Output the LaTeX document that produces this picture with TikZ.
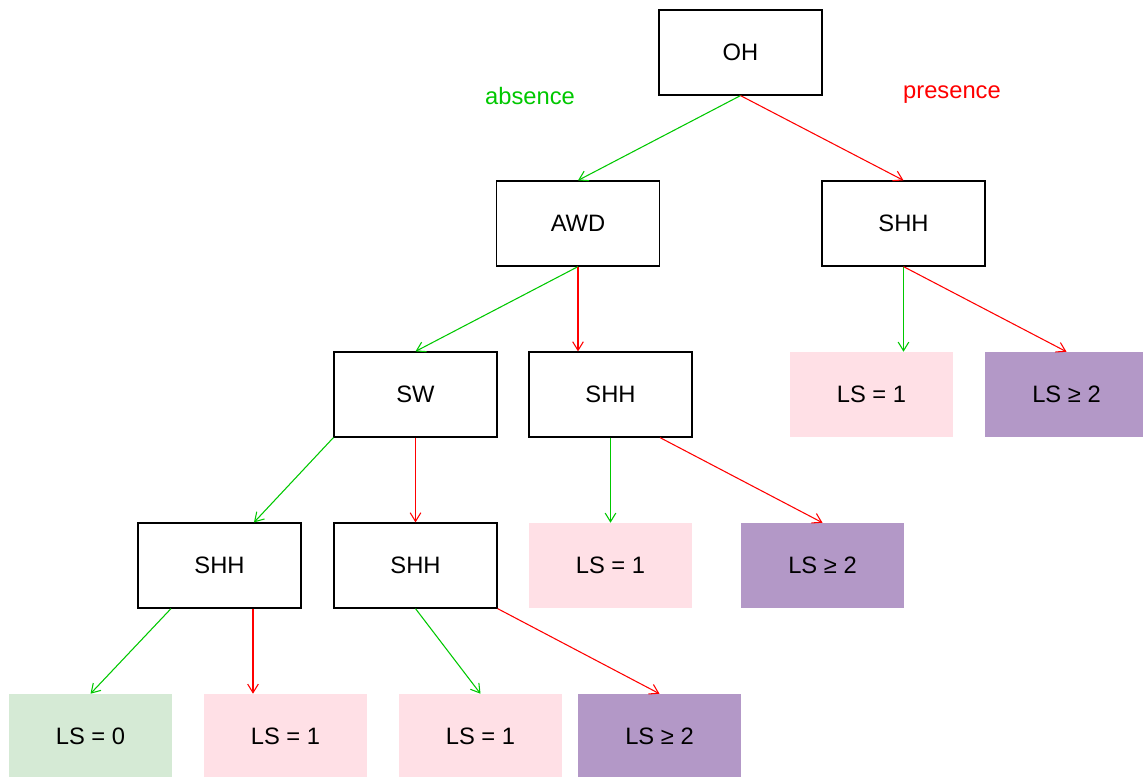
\documentclass[tikz,border=0pt]{standalone}
\usepackage{fontspec}
\setmainfont{Liberation Sans}
\usetikzlibrary{arrows.meta,calc}
\definecolor{agreen}{RGB}{0,200,0}
\definecolor{pred}{RGB}{255,0,0}
\definecolor{pinkfill}{RGB}{255,224,230}
\definecolor{purplefill}{RGB}{179,152,199}
\definecolor{greenfill}{RGB}{213,234,213}
\begin{document}
\begin{tikzpicture}[x=0.75pt,y=-0.75pt,
  lbl/.style={font=\fontsize{17.8}{21}\selectfont},
  box/.style={lbl,draw=black,line width=0.9pt,fill=white,minimum width=122.25pt,minimum height=63.75pt,inner sep=0pt},
  leaf/.style={lbl,draw=none,minimum width=122.25pt,minimum height=63.75pt,inner sep=0pt},
  ls1/.style={leaf,fill=pinkfill},
  ls2/.style={leaf,fill=purplefill},
  ls0/.style={leaf,fill=greenfill},
  conn/.style={line width=0.8pt,-{Straight Barb[length=6.5pt,width=8pt]}},
  garrow/.style={conn,agreen},
  rarrow/.style={conn,pred}]
\useasboundingbox (0,0) rectangle (1143,776);
\clip (0,0) rectangle (1143,776);
% level 0
\node[box] (oh) at (740.5,52.5) {OH};
% level 1
\node[box] (awd) at (578,223.5) {AWD};
\node[box] (shhR) at (903.5,223.5) {SHH};
% level 2
\node[box] (sw) at (415.5,394.5) {SW};
\node[box] (shhM) at (610.5,394.5) {SHH};
\node[ls1] (ls1R) at (871.5,394.5) {LS = 1};
\node[ls2] (ls2R) at (1066.5,394.5) {LS ≥ 2};
% level 3
\node[box] (shhL) at (219.5,565.5) {SHH};
\node[box] (shhL2) at (415.5,565.5) {SHH};
\node[ls1] (ls1M) at (610.5,565.5) {LS = 1};
\node[ls2] (ls2M) at (822.5,565.5) {LS ≥ 2};
% level 4
\node[ls0] (ls0B) at (90.5,736.5) {LS = 0};
\node[ls1] (ls1B) at (285.5,736.5) {LS = 1};
\node[ls1] (ls1C) at (480.5,736.5) {LS = 1};
\node[ls2] (ls2B) at (659.5,736.5) {LS ≥ 2};
% labels
\node[lbl,text=agreen] (absence) at (530,96) {absence};
\node[lbl,text=pred] (presence) at (952,95) {presence};
% connectors
\draw[garrow] (oh.south) -- (awd.north);
\draw[rarrow] (oh.south) -- (shhR.north);
\draw[garrow] (awd.south) -- (sw.north);
\draw[rarrow] (awd.south) -- (awd.south |- shhM.north);
\draw[garrow] (shhR.south) -- (shhR.south |- ls1R.north);
\draw[rarrow] (shhR.south) -- (ls2R.north);
\draw[garrow] (sw.south west) -- ($(shhL.north)+(34.5,0)$);
\draw[rarrow] (sw.south) -- (shhL2.north);
\draw[garrow] (shhM.south) -- (ls1M.north);
\draw[rarrow] ($(shhM.south)+(49.5,0)$) -- (ls2M.north);
\draw[garrow] ($(shhL.south)+(-48.5,0)$) -- (ls0B.north);
\draw[rarrow] ($(shhL.south)+(33.5,0)$) -- ($(ls1B.north)+(-32.5,0)$);
\draw[garrow] (shhL2.south) -- (ls1C.north);
\draw[rarrow] (shhL2.south east) -- (ls2B.north);
\end{tikzpicture}
\end{document}
